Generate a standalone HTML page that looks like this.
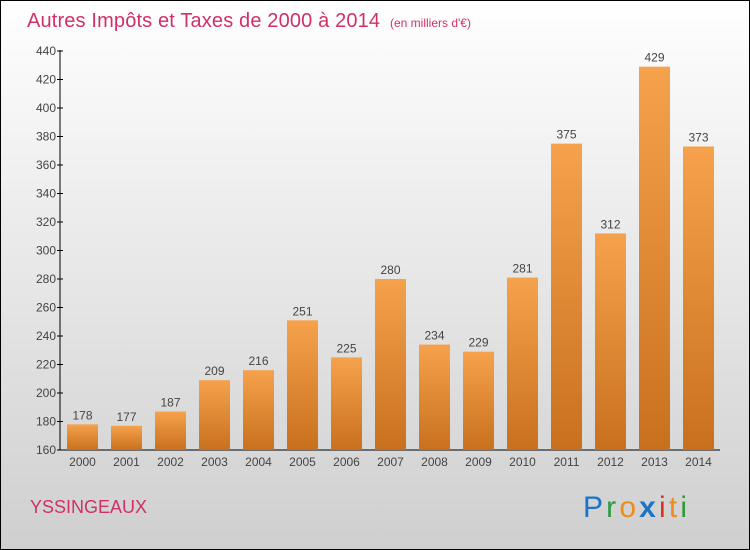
<!DOCTYPE html>
<html><head><meta charset="utf-8"><style>
body{margin:0;width:750px;height:550px;overflow:hidden}
svg{display:block;font-family:"Liberation Sans",sans-serif}
</style></head><body>
<svg width="750" height="550">
<defs>
<linearGradient id="bg" x1="0" y1="0" x2="0" y2="1"><stop offset="0" stop-color="#ffffff"/><stop offset="1" stop-color="#cfcfcf"/></linearGradient>
<linearGradient id="bar" x1="0" y1="0" x2="0" y2="1"><stop offset="0" stop-color="#f6a24c"/><stop offset="1" stop-color="#c8701e"/></linearGradient>
</defs>
<rect x="0.5" y="0.5" width="749" height="549" fill="url(#bg)" stroke="#000"/>
<text x="27" y="27" font-size="20" fill="#d0306a" textLength="353">Autres Impôts et Taxes de 2000 à 2014</text>
<text x="390" y="27" font-size="12" fill="#d0306a">(en milliers d'€)</text>
<g id="yax"></g>
<g id="bars"></g>
<text x="30" y="513" font-size="18" fill="#d0306a">YSSINGEAUX</text>
<g font-size="30" font-family="'Liberation Sans',sans-serif">
<text x="583" y="517" textLength="104"><tspan fill="#1b74c8">P</tspan><tspan fill="#2d9a3c">r</tspan><tspan fill="#f08a1c">o</tspan><tspan fill="#1b74c8" font-weight="bold">x</tspan><tspan fill="#e0301e">i</tspan><tspan fill="#f08a1c">t</tspan><tspan fill="#2d9a3c">i</tspan></text>
</g>
</svg>
<script>
const years=["2000","2001","2002","2003","2004","2005","2006","2007","2008","2009","2010","2011","2012","2013","2014"];
const values=[178,177,187,209,216,251,225,280,234,229,281,375,312,429,373];
const yTicks=[160,180,200,220,240,260,280,300,320,340,360,380,400,420,440];
const NS="http://www.w3.org/2000/svg";
const y=v=>450-(v-160)*(399/280);
const x=i=>82.5+i*44;
function mk(t,a,p){const e=document.createElementNS(NS,t);for(const k in a)e.setAttribute(k,a[k]);p.appendChild(e);return e;}
const ya=document.getElementById('yax'),bg=document.getElementById('bars');
let l=mk('line',{x1:60,y1:50,x2:60,y2:450,stroke:'#000'},ya);


l=mk('line',{x1:60,y1:450,x2:720,y2:450,stroke:'#000'},ya);


yTicks.forEach(v=>{
 const tk=mk('line',{x1:57,x2:63,y1:y(v),y2:y(v),stroke:'#000'},ya);
 
 
 const t=mk('text',{x:56,y:y(v)+4,'font-size':12,fill:'#444','text-anchor':'end'},ya);
 t.textContent=v;
 
 
});
years.forEach((yr,i)=>{
 const r=mk('rect',{x:x(i)-15.5,y:y(values[i]),width:31,height:450-y(values[i]),fill:'url(#bar)'},bg);
 
 
 const v=mk('text',{x:x(i),y:y(values[i])-5,'font-size':12,fill:'#444','text-anchor':'middle'},bg);
 v.textContent=values[i];
 
 
 const t=mk('text',{x:x(i),y:466,'font-size':12,fill:'#444','text-anchor':'middle'},bg);
 t.textContent=yr;
 
 
});
</script>
</body></html>
